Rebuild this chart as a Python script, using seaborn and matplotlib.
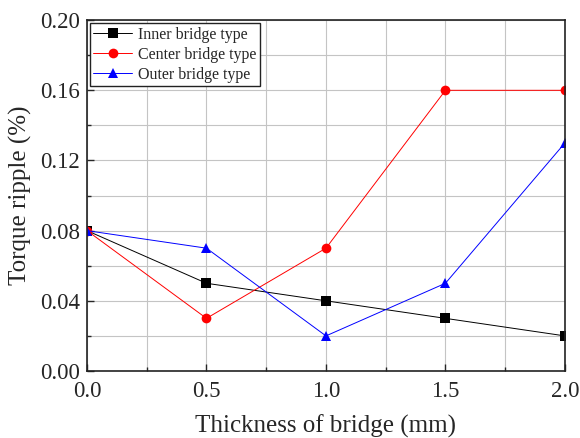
import matplotlib
matplotlib.use("Agg")
import matplotlib.pyplot as plt
import seaborn as sns
import pandas as pd
from matplotlib.ticker import MultipleLocator, FormatStrFormatter

thickness = [0.0, 0.5, 1.0, 1.5, 2.0]
inner = [0.08, 0.05, 0.04, 0.03, 0.02]
center = [0.08, 0.03, 0.07, 0.16, 0.16]
outer = [0.08, 0.07, 0.02, 0.05, 0.13]
labels = ["Inner bridge type", "Center bridge type", "Outer bridge type"]

sns.set_style("white")
plt.rcParams['font.family'] = ['Liberation Serif', 'DejaVu Serif']
plt.rcParams['mathtext.fontset'] = 'stix'

rows = []
for lab, vals in zip(labels, [inner, center, outer]):
    for x, y in zip(thickness, vals):
        rows.append({"x": x, "y": y, "type": lab})
df = pd.DataFrame(rows)

fig = plt.figure(figsize=(5.8, 4.38), dpi=100)
ax = fig.add_axes([0.150, 0.153, 0.824, 0.801])

sns.lineplot(data=df, x="x", y="y", hue="type", style="type",
             palette={labels[0]: "black", labels[1]: "red", labels[2]: "blue"},
             markers={labels[0]: "s", labels[1]: "o", labels[2]: "^"},
             dashes=False, markersize=7, linewidth=0.7, markeredgewidth=0,
             ax=ax, legend=True)

ax.set_xlim(0, 2.0)
ax.set_ylim(0, 0.20)
ax.xaxis.set_major_locator(MultipleLocator(0.5))
ax.xaxis.set_minor_locator(MultipleLocator(0.25))
ax.yaxis.set_major_locator(MultipleLocator(0.04))
ax.yaxis.set_minor_locator(MultipleLocator(0.02))
ax.xaxis.set_major_formatter(FormatStrFormatter('%.1f'))
ax.yaxis.set_major_formatter(FormatStrFormatter('%.2f'))

ax.grid(True, which='both', color='#c4c4c4', linewidth=0.8)
ax.set_axisbelow(True)
ax.tick_params(which='both', direction='in', bottom=True, left=True, top=False, right=False)
ax.tick_params(which='major', length=5, width=1, labelsize=16.5)
ax.tick_params(axis='x', which='major', pad=7)
ax.tick_params(axis='y', which='major', pad=5)
ax.tick_params(which='minor', length=3, width=1)
for s in ax.spines.values():
    s.set_color('#222222')
    s.set_linewidth(1.2)

ax.set_xlabel("Thickness of bridge (mm)", fontsize=18, labelpad=9)
ax.set_ylabel("Torque ripple (%)", fontsize=18, labelpad=6)

leg = ax.legend(loc='upper left', fontsize=11.5, frameon=True, fancybox=False,
                edgecolor='#222222', borderaxespad=0.2, borderpad=0.2,
                labelspacing=0.25, handlelength=2.4, handletextpad=0.4)
leg.get_frame().set_linewidth(1.0)
leg.get_frame().set_alpha(1)

fig.savefig("out.png", dpi=100)
